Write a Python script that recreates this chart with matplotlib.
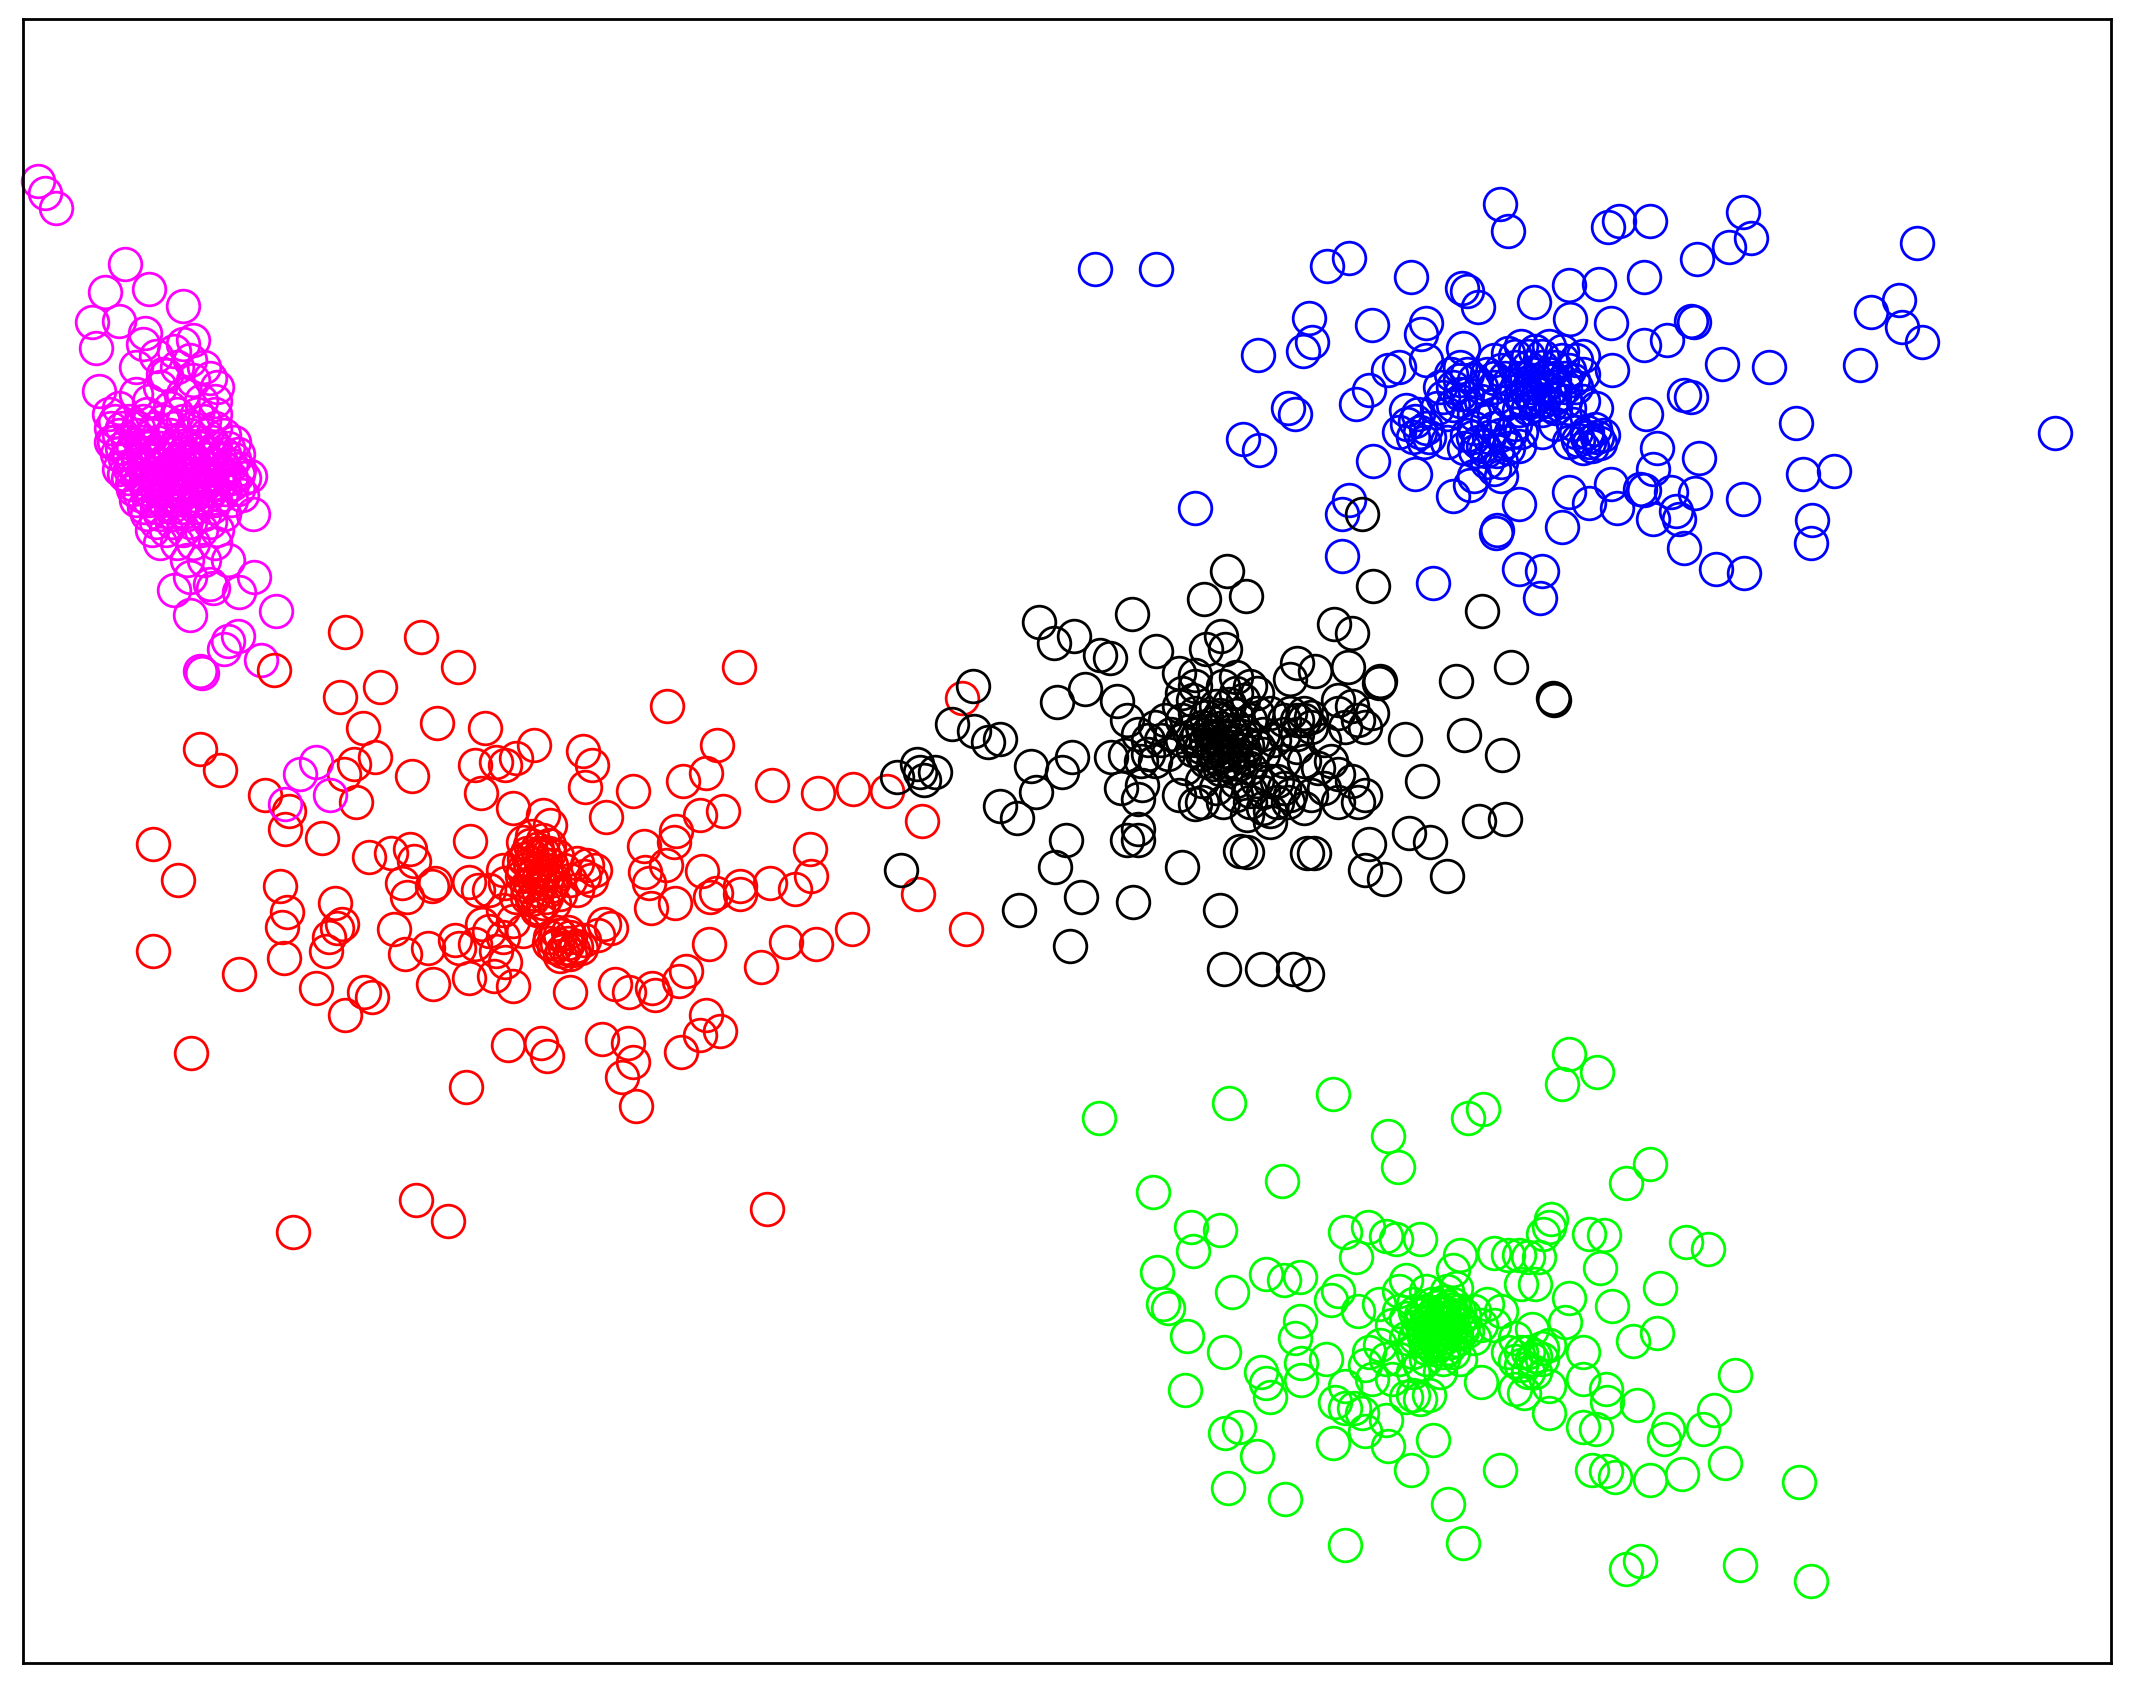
import matplotlib
matplotlib.use("Agg")
import matplotlib.pyplot as plt

# points, (x, y) per cluster
magenta_pts = [
    (28,133),(33,142),(41,153),(92,194),(77,215),(110,213),(135,225),(68,237),(88,236),(71,256),
    (107,245),(105,253),(135,253),(142,250),(128,258),(122,276),(100,270),(155,278),(158,295),(73,288),
    (125,300),(110,295),(142,280),(120,275),(160,285),
    (85,310),(95,310),(105,310),(120,310),(135,310),(150,310),
    (88,320),(100,320),(112,320),(125,320),(140,320),(152,320),(165,320),
    (90,330),(98,330),(108,330),(118,330),(128,330),(138,330),(148,330),(158,330),(168,330),
    (92,338),(102,338),(112,338),(122,338),(132,338),(142,338),(152,338),(162,338),(172,338),
    (88,345),(96,345),(106,345),(116,345),(124,345),(130,345),(136,345),(146,345),(156,345),(166,345),(176,345),
    (94,352),(104,352),(114,352),(122,352),(128,352),(134,352),(142,352),(150,352),(160,352),(170,352),(180,352),
    (98,360),(108,360),(116,360),(124,360),(130,360),(138,360),(146,360),(156,360),(166,360),(175,360),
    (100,368),(110,368),(120,368),(128,368),(136,368),(146,368),(158,368),(170,368),
    (108,378),(118,378),(128,378),(138,378),(150,378),(165,378),(186,378),
    (112,390),(122,390),(135,390),(148,390),(160,390),
    (118,400),(130,400),(142,400),(158,400),(138,412),(150,412),(168,412),
    (128,434),(140,425),(155,430),(157,433),(176,436),(187,425),
    (203,450),(140,453),(175,468),(168,472),(165,478),(192,486),(147,494),(149,495),
    # dense core
    (90,315),(102,315),(114,315),(128,315),(142,315),(158,315),
    (84,325),(94,325),(104,325),(116,325),(130,325),(144,325),(156,325),(172,325),
    (86,334),(95,334),(105,334),(115,334),(125,334),(135,334),(145,334),(155,334),(165,334),(175,334),
    (98,342),(108,342),(118,342),(128,342),(138,342),(148,342),(158,342),(170,342),(184,350),
    (91,349),(101,349),(111,349),(119,349),(127,349),(133,349),(139,349),(147,349),(155,349),(165,349),(175,349),
    (97,356),(107,356),(117,356),(125,356),(131,356),(141,356),(151,356),(161,356),(171,356),
    (103,364),(113,364),(123,364),(133,364),(143,364),(153,364),(163,364),(178,364),
    (106,373),(116,373),(126,373),(134,373),(144,373),(156,373),(115,384),(127,384),(140,384),(155,384),
    (115,262),(140,265),(130,270),(150,270),(118,285),(135,290),(148,295),(100,290),(88,300),(108,305),
    (130,305),(145,305),(158,305),(80,305),(82,315),(82,325),
]
magenta_top_pts = [(233,561),(221,570),(243,585),(210,592)]

red_pts = [
    (254,465),(310,469),(337,491),(280,506),(250,513),(544,491),(491,520),(267,536),(322,532),(357,536),
    (147,551),(162,567),(195,585),(210,610),(213,597),(262,590),(276,557),(261,562),(253,570),(303,571),
    (393,548),(429,553),(436,563),(528,548),(350,563),(365,561),(372,563),(380,558),(354,584),(431,579),
    (466,582),(503,575),(520,569),(568,578),(602,584),(628,581),(653,582),(532,597),(515,600),(498,612),
    (496,620),(446,601),(378,595),(400,600),(405,607),(113,621),(131,648),(237,617),(272,631),(288,628),
    (302,625),(305,634),(346,619),(474,623),(596,625),(679,604),(708,514),(206,652),(247,665),(211,671),
    (208,682),(252,680),(248,683),(290,684),(296,650),(300,660),(318,652),(320,650),(345,649),(352,655),
    (475,642),(490,637),(478,650),(517,641),(527,657),(523,660),(545,652),(545,658),(567,650),(585,654),
    (597,645),(479,668),(497,665),(113,700),(242,690),(240,700),(209,705),(176,717),(298,702),(315,698),
    (335,692),(338,698),(360,685),(365,700),(522,695),(579,693),(601,695),(627,684),(560,712),(676,658),
    (711,684),(233,727),(268,730),(274,734),(254,747),(319,724),(345,720),(364,718),(372,708),(378,726),
    (420,730),(453,724),(463,730),(480,727),(482,732),(500,722),(505,715),(141,775),(374,769),(398,768),
    (403,777),(443,765),(462,768),(466,782),(458,793),(520,747),(530,759),(515,762),(501,774),(343,800),
    (468,814),(306,883),(330,899),(216,907),(565,890),(202,493),
    (385,620),(392,615),(400,618),(388,628),(395,625),(404,628),(382,635),(390,635),(398,635),(406,637),
    (415,640),(425,635),(432,637),(438,640),(384,645),(392,645),(400,645),(408,648),(420,648),(430,645),
    (388,652),(396,655),(404,655),(412,658),(392,662),(400,665),(408,665),(395,670),(425,655),(435,648),
    (370,640),(360,655),(372,650),(380,660),(370,670),(355,680),(378,678),(405,690),(412,688),(420,690),
    (408,697),(416,698),(424,696),(412,704),(420,702),(430,692),(440,688),(450,683),(445,680),(385,685),
    (370,690),(350,695),
    # dense core
    (390,622),(397,630),(385,640),(394,640),(402,640),(390,650),(398,650),(406,652),(394,658),(402,660),
    (386,632),(410,630),(388,660),(397,645),(404,622),(392,630),(400,628),(396,668),(410,695),(418,694),
    (414,700),(422,699),(410,686),(418,686),(404,694),(428,698),
]

black_pts = [
    (903,420),(886,441),(917,439),(1011,431),(1091,450),(765,458),(776,473),(791,468),(833,452),(982,459),
    (995,466),(899,468),(888,478),(902,478),(851,479),(810,482),(817,484),(1112,491),(1072,501),(1143,514),
    (1144,515),(716,505),(799,507),(778,517),(822,516),(868,495),(880,497),(955,488),(950,500),(968,494),
    (992,491),(1016,501),(1015,503),(701,533),(717,538),(727,546),(736,544),(830,530),(1078,541),(1034,544),
    (1106,556),(789,557),(759,564),(782,568),(818,557),(660,572),(675,562),(677,568),(680,574),(688,568),
    (841,578),(838,588),(1047,575),(736,593),(749,602),(763,583),(1089,604),(1108,603),(785,618),(838,610),
    (830,618),(838,618),(1037,613),(1053,620),(1008,621),(777,638),(870,638),(913,626),(918,627),(962,628),
    (967,628),(1005,640),(1019,647),(1065,645),(663,640),(796,660),(834,664),(750,670),(898,670),(788,696),
    (901,713),(929,713),(952,713),(962,717),(1003,378),
    (885,535),(893,532),(900,530),(908,533),(916,538),(880,545),(888,545),(895,543),(903,543),(910,545),
    (918,548),(926,550),(885,555),(893,553),(900,553),(908,555),(916,557),(893,562),(900,562),(908,565),
    (895,520),(905,518),(915,515),(878,515),(870,510),(900,505),(910,510),(925,525),(935,525),(945,530),
    (955,530),(965,535),(850,535),(855,545),(860,555),(850,560),(870,530),(872,565),(885,575),(895,580),
    (910,585),(920,590),(930,595),(940,590),(950,585),(925,575),(935,575),(960,560),(970,565),(980,560),
    (985,525),(990,535),(1000,530),(975,545),(985,590),(1000,590),(1005,585),(960,595),(935,605),(918,600),
    (885,590),(880,592),(868,585),(945,580),(828,556),(845,545),(825,580),(840,560),(985,515),(1010,525),
    (1005,535),(995,520),(960,530),(955,550),(945,560),(870,545),(862,540),
    # dense core
    (882,540),(890,538),(898,536),(906,538),(914,542),(922,544),(884,550),(892,548),(900,548),(908,550),
    (916,552),(888,560),(896,558),(904,560),(912,562),(898,566),(888,528),(898,526),(910,526),(920,530),
    (875,538),(878,552),(892,542),(902,556),(896,551),(904,546),(930,540),(938,545),(930,555),(920,565),
    (940,575),(948,590),(930,583),(920,582),(935,597),(950,525),(960,525),(955,540),(965,528),(945,540),
    (858,530),(845,555),(838,540),(868,520),(880,505),(910,498),(920,505),(880,525),(925,510),(985,570),
    (975,580),(995,575),(965,585),(910,575),(900,590),
]

blue_pts = [
    (1104,150),(1110,170),(1283,156),(1215,163),(1192,163),(1184,167),(1289,175),(1273,182),(1249,191),(1411,179),
    (806,198),(851,198),(977,196),(993,190),(1039,204),(1210,204),(1177,209),(1155,210),(1129,222),(1076,212),
    (1080,214),(1088,226),(1398,221),(1377,230),(1400,241),(1415,252),(964,234),(1010,239),(1050,238),(1046,246),
    (1156,235),(1186,238),(1245,236),(1247,237),(1227,250),(1210,254),(959,258),(966,252),(926,261),(1369,269),
    (1302,270),(1268,268),(1030,270),(1022,272),(1077,256),(1050,265),(1008,287),(998,297),(1240,291),(1245,292),
    (1187,272),(1165,262),(948,300),(953,305),(1212,305),(1322,311),(1513,319),(915,323),(927,331),(1011,339),
    (1042,349),(1220,330),(1217,345),(1251,337),(1327,349),(1350,347),(1082,357),(1070,365),(1118,371),(1155,362),
    (1186,356),(1170,370),(1190,374),(1207,360),(1210,361),(1230,362),(1248,363),(1283,367),(880,374),(993,368),
    (988,378),(1217,382),(1234,376),(1236,382),(1334,383),(1333,400),(1240,403),(1150,388),(1102,390),(1101,392),
    (988,409),(1118,419),(1135,420),(1134,440),(1263,419),(1284,422),(1055,429),
    (1100,265),(1110,260),(1120,255),(1130,258),(1140,255),(1150,258),(1160,265),(1095,275),(1105,272),(1115,270),
    (1125,270),(1135,270),(1145,270),(1155,272),(1165,275),(1090,285),(1100,285),(1110,283),(1120,283),(1128,285),
    (1136,285),(1144,285),(1152,285),(1160,285),(1120,293),(1128,293),(1136,295),(1144,293),(1152,295),(1110,295),
    (1125,300),(1135,302),(1145,300),(1075,280),(1075,290),(1070,298),(1065,305),(1060,285),(1035,302),(1042,310),
    (1050,315),(1030,318),(1040,322),(1048,325),(1058,300),(1065,325),(1080,320),(1088,325),(1096,322),(1104,320),
    (1112,318),(1120,318),(1078,330),(1086,332),(1094,332),(1102,332),(1110,330),(1118,328),(1160,318),(1168,322),
    (1176,322),(1180,320),(1155,325),(1165,330),(1172,328),(1135,318),(1075,295),(1085,305),(1100,305),(1145,312),
    (1155,300),(1165,295),(1175,300),(1100,345),(1085,350),(1105,350),
    # dense core
    (1120,278),(1128,280),(1136,278),(1144,280),(1152,278),(1124,288),(1132,290),(1140,288),(1148,290),(1116,288),
    (1128,275),(1140,275),(1122,296),(1130,298),(1142,298),(1118,302),(1108,278),(1100,278),(1158,280),(1150,265),
    (1135,262),(1125,262),(1115,262),(1080,275),(1085,280),(1070,285),(1080,290),(1068,275),(1075,270),(1062,292),
    (1090,295),(1095,310),(1085,315),(1100,315),(1108,325),(1092,328),(1084,322),(1115,312),(1045,318),(1036,312),
    (1052,322),(1044,305),(1168,318),(1174,316),(1162,324),(1170,325),(1178,326),(1158,312),(1105,340),(1095,340),
]

green_pts = [
    (1155,776),(1176,789),(1150,798),(981,805),(905,812),(809,823),(1092,816),(1081,823),(1022,836),(1029,859),
    (1215,857),(1197,871),(944,869),(849,877),(877,903),(898,905),(878,921),(1142,897),(1140,903),(1136,908),
    (1170,908),(1181,909),(1241,914),(1257,919),(990,907),(1007,903),(1020,910),(1028,912),(1045,912),(998,925),
    (1075,924),(1070,935),(1100,922),(1110,924),(1118,924),(1125,925),(1133,925),(1178,933),(852,936),(932,938),
    (945,942),(957,940),(1222,948),(1035,942),(1120,945),(1130,945),(907,951),(856,960),(860,963),(985,950),
    (980,957),(1000,965),(1155,955),(1187,961),(957,972),(953,985),(1152,973),(1128,978),(1220,981),(1202,987),
    (874,983),(901,995),(1016,990),(1008,995),(976,1000),(1140,990),(1165,995),(1130,998),(1277,1012),(928,1010),
    (958,1003),(958,1016),(872,1023),(932,1018),(935,1028),(990,1020),(1005,1005),(1020,1000),(1090,1017),(1115,1022),
    (1122,1025),(1140,1020),(1165,1015),(1182,1022),(1183,1032),(1205,1034),(1140,1040),(1262,1038),(1228,1052),(1225,1059),
    (1254,1052),(1165,1050),(1175,1052),(902,1055),(912,1050),(983,1032),(990,1036),(997,1036),(1003,1040),(1020,1045),
    (1035,1028),(1040,1027),(1045,1030),(1052,1027),(1055,1060),(1005,1053),(981,1062),(1022,1064),(925,1072),(1039,1082),
    (1104,1082),(1172,1082),(1182,1083),(1189,1087),(1215,1089),(1238,1085),(1270,1077),(1324,1091),(904,1095),(946,1103),
    (1066,1107),(990,1137),(1077,1136),(1207,1149),(1197,1155),(1281,1152),(1333,1164),
    (1050,965),(1058,962),(1066,962),(1074,965),(1045,972),(1053,972),(1061,970),(1069,972),(1077,975),(1048,980),
    (1056,980),(1064,980),(1072,982),(1052,988),(1060,988),(1068,988),(1056,993),(1062,995),(1040,960),(1030,965),
    (1025,975),(1035,985),(1040,995),(1030,1000),(1045,1005),(1060,1010),(1085,965),(1095,960),(1105,965),(1085,985),
    (1100,975),(1115,985),(1125,995),(1135,1000),(1120,1005),(1110,995),(1130,1010),(1015,960),(1030,950),(1050,950),
    (1065,950),(1072,948),(1010,1015),(1025,1015),(1040,1010),(1075,1000),
    # dense core
    (1046,968),(1050,974),(1054,968),(1058,972),(1062,966),(1066,974),(1070,968),(1074,972),(1044,976),(1048,984),
    (1052,978),(1056,986),(1060,978),(1064,984),(1068,978),(1072,986),(1076,980),(1050,992),(1058,990),(1066,992),
    (1054,960),(1062,958),(1070,960),(1058,966),(1062,974),(1056,976),(1060,982),(1064,970),(1054,983),(1068,964),
    (1042,966),(1042,984),(1078,968),(1080,980),(1062,1000),(1050,1000),(1070,995),(1035,970),(1090,975),(1120,995),
    (1128,1000),(1115,1002),(1135,992),(1125,1010),
]

# draw order matters where clusters overlap
clusters = [
    (blue_pts, "#0000ff"),
    (magenta_pts, "#ff00ff"),
    (red_pts, "#ff0000"),
    (magenta_top_pts, "#ff00ff"),
    (black_pts, "#000000"),
    (green_pts, "#00ff00"),
]

fig = plt.figure(figsize=(21.3, 17.02), dpi=100)
ax = fig.add_axes([23 / 2130, 1 - 1663 / 1702, 2088 / 2130, 1644 / 1702])

for pts, col in clusters:
    xs = [p[0] for p in pts]
    ys = [p[1] for p in pts]
    ax.plot(xs, ys, "o", mfc="none", mec=col, ms=23.5, mew=2.0, clip_on=False)

ax.set_xlim(17, 1554)
ax.set_ylim(1224, 14)
ax.set_xticks([])
ax.set_yticks([])
for s in ax.spines.values():
    s.set_linewidth(2.0)
    s.set_color("black")
    s.set_zorder(5)

fig.savefig("out.png", dpi=100)
